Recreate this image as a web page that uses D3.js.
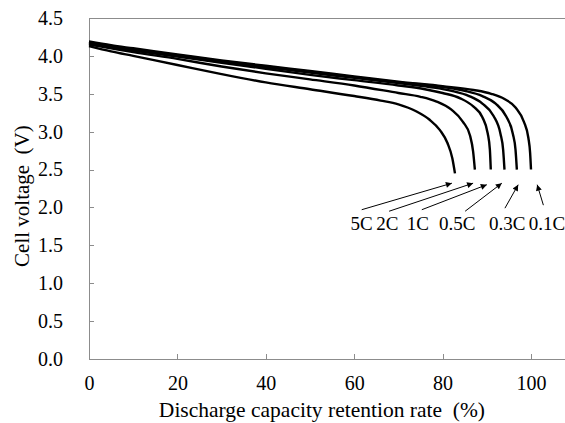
<!DOCTYPE html>
<meta charset="utf-8">
<style type="text/css">
  body {
    margin: 0;
    background: #fff;
  }
  svg text {
    font-family: "Liberation Serif", "Times New Roman", "DejaVu Serif", serif;
    fill: #000;
  }
  .axis path, .axis line, .frame {
    stroke: #8c8c8c;
    stroke-width: 1px;
    shape-rendering: crispEdges;
    fill: none;
  }
  .curve {
    fill: none;
    stroke: #000;
    stroke-width: 2.4px;
  }
  .arrow {
    stroke: #000;
    stroke-width: 1px;
  }
</style>
<body>
<div id="chart"></div>
<script src="https://d3js.org/d3.v7.min.js"></script>
<script>
// discharge curves: [capacity retention %, cell voltage V]
const curve01C = [[0,4.19],[5,4.14],[10,4.10],[20,4.02],[30,3.94],[40,3.87],[50,3.80],[60,3.73],[70,3.66],[80,3.60],[87,3.55],[91,3.50],[94,3.43],[96.5,3.32],[98.4,3.13],[99.4,2.92],[99.8,2.72],[100,2.5]];
const curve03C = [[0,4.18],[5,4.13],[10,4.09],[20,4.01],[30,3.93],[40,3.86],[50,3.79],[60,3.72],[70,3.65],[80,3.59],[85,3.54],[89,3.47],[92,3.37],[94.4,3.20],[95.9,2.97],[96.5,2.76],[96.8,2.5]];
const curve05C = [[0,4.17],[5,4.12],[10,4.08],[20,4.00],[30,3.92],[40,3.85],[50,3.78],[60,3.71],[70,3.64],[77,3.59],[82,3.54],[86,3.47],[89,3.37],[91.5,3.21],[93.1,2.97],[93.7,2.76],[94,2.5]];
const curve1C = [[0,4.16],[5,4.11],[10,4.07],[20,3.99],[30,3.91],[40,3.83],[50,3.75],[60,3.68],[70,3.61],[76,3.56],[80,3.51],[84,3.44],[87,3.33],[89,3.19],[90.2,2.98],[90.7,2.76],[90.9,2.5]];
const curve2C = [[0,4.15],[5,4.10],[10,4.05],[20,3.96],[30,3.86],[40,3.77],[50,3.69],[60,3.61],[70,3.51],[75,3.46],[78.5,3.40],[82,3.29],[84.6,3.13],[86.2,2.95],[86.9,2.74],[87.3,2.5]];
const curve5C = [[0,4.13],[5,4.06],[10,4.00],[20,3.88],[30,3.76],[40,3.65],[50,3.56],[60,3.47],[66,3.41],[70,3.36],[74,3.27],[77,3.16],[79.4,3.02],[81.1,2.85],[82.2,2.65],[82.8,2.45]];

const curves = [curve01C, curve03C, curve05C, curve1C, curve2C, curve5C];
const rateLabels = ["0.1C", "0.3C", "0.5C", "1C", "2C", "5C"];

// label arrows, in data units: tip of arrow, tail of arrow, label position
const arrowTips = [[101.4,2.30],[97.1,2.30],[93.4,2.32],[90.0,2.30],[86.9,2.32],[82.1,2.32]];
const arrowTails = [[102.8,2.03],[94.1,1.99],[85.1,1.95],[75.3,1.97],[67.9,1.95],[61.7,1.97]];
const labelPos = [[103.6,1.70],[94.6,1.70],[83.3,1.70],[74.4,1.70],[67.5,1.70],[61.7,1.70]];

const xTicks = [0, 20, 40, 60, 80, 100];
const yTicks = [0, 0.5, 1.0, 1.5, 2.0, 2.5, 3.0, 3.5, 4.0, 4.5];

const xTitle = "Discharge capacity retention rate\u00a0\u00a0(%)";
const yTitle = "Cell voltage\u00a0\u00a0(V)";

var W = 565, H = 423;
var margin = {top: 18, right: 0, bottom: 64, left: 89};
var serif = "'Liberation Serif', 'Times New Roman', serif";

var svg = d3.select("#chart").append("svg")
  .attr("width", W)
  .attr("height", H);

// x axis runs past the right edge of the picture
var xScale = d3.scaleLinear()
  .domain([0, 110])
  .range([margin.left, margin.left + 110 * 4.42]);

var yScale = d3.scaleLinear()
  .domain([0, 4.5])
  .range([H - margin.bottom, margin.top]);

var defs = svg.append("defs");
defs.append("marker")
  .attr("id", "head")
  .attr("viewBox", "0 0 10 10")
  .attr("refX", 10)
  .attr("refY", 5)
  .attr("markerWidth", 7)
  .attr("markerHeight", 6)
  .attr("markerUnits", "userSpaceOnUse")
  .attr("orient", "auto")
  .append("path")
  .attr("d", "M0,0 L10,5 L0,10 z")
  .attr("fill", "#000");

// top frame line
svg.append("line")
  .attr("class", "frame")
  .attr("x1", xScale(0))
  .attr("x2", xScale(110))
  .attr("y1", yScale(4.5))
  .attr("y2", yScale(4.5));

var xAxis = d3.axisBottom(xScale)
  .tickValues(xTicks)
  .tickSizeInner(-5)
  .tickSizeOuter(0)
  .tickPadding(15)
  .tickFormat(d3.format("d"));

var yAxis = d3.axisLeft(yScale)
  .tickValues(yTicks)
  .tickSizeInner(-5)
  .tickSizeOuter(0)
  .tickPadding(26)
  .tickFormat(d3.format(".1f"));

svg.append("g")
  .attr("class", "x axis")
  .attr("transform", "translate(0," + yScale(0) + ")")
  .call(xAxis)
  .attr("font-family", serif)
  .attr("font-size", 20);

svg.append("g")
  .attr("class", "y axis")
  .attr("transform", "translate(" + xScale(0) + ",0)")
  .call(yAxis)
  .attr("font-family", serif)
  .attr("font-size", 20);

d3.selectAll(".x.axis .tick text").attr("dy", "0.8em");

// axis titles
svg.append("text")
  .attr("x", xScale(52.7))
  .attr("y", 417)
  .attr("text-anchor", "middle")
  .attr("font-family", serif)
  .attr("font-size", 21.5)
  .text(xTitle);

svg.append("text")
  .attr("transform", "translate(29," + yScale(2.15) + ") rotate(-90)")
  .attr("text-anchor", "middle")
  .attr("font-family", serif)
  .attr("font-size", 21)
  .text(yTitle);

var line = d3.line()
  .x(function(d) { return xScale(d[0]); })
  .y(function(d) { return yScale(d[1]); })
  .curve(d3.curveMonotoneX);

svg.selectAll("path.curve")
  .data(curves)
  .enter()
  .append("path")
  .attr("class", "curve")
  .attr("d", line);

svg.selectAll("line.arrow")
  .data(rateLabels)
  .enter()
  .append("line")
  .attr("class", "arrow")
  .attr("x1", function(d, i) { return xScale(arrowTails[i][0]); })
  .attr("y1", function(d, i) { return yScale(arrowTails[i][1]); })
  .attr("x2", function(d, i) { return xScale(arrowTips[i][0]); })
  .attr("y2", function(d, i) { return yScale(arrowTips[i][1]); })
  .attr("marker-end", "url(#head)");

svg.selectAll("text.rate-label")
  .data(rateLabels)
  .enter()
  .append("text")
  .attr("class", "rate-label")
  .attr("text-anchor", "middle")
  .attr("font-family", serif)
  .attr("font-size", 19)
  .attr("x", function(d, i) { return xScale(labelPos[i][0]); })
  .attr("y", function(d, i) { return yScale(labelPos[i][1]); })
  .text(function(d) { return d; });
</script>
</body>
